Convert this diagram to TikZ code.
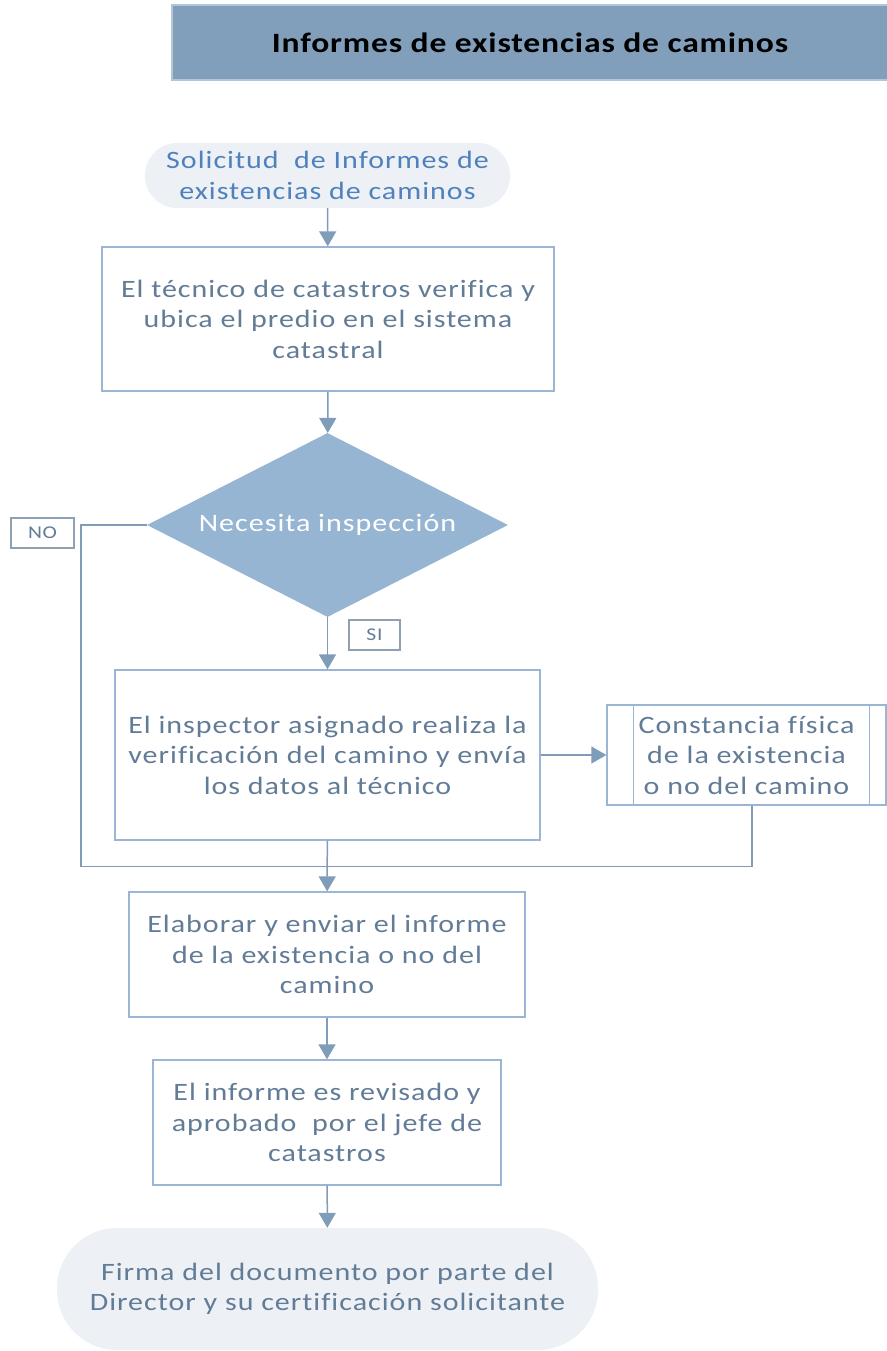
\documentclass[tikz,border=0pt]{standalone}
\usepackage{fontspec}
\setmainfont{Carlito}[FakeStretch=1.2,LetterSpace=4,Ligatures=NoCommon]
\newfontfamily\titlefont{Carlito}[FakeStretch=1.2,LetterSpace=3]
\usetikzlibrary{arrows.meta,shapes.geometric}
\definecolor{hdrfill}{HTML}{819FBB}
\definecolor{hdrline}{HTML}{B4C5D8}
\definecolor{palefill}{HTML}{EDF1F6}
\definecolor{bluetxt}{HTML}{4F81BD}
\definecolor{greytxt}{HTML}{627C97}
\definecolor{boxline}{HTML}{9AB6D4}
\definecolor{decfill}{HTML}{95B5D3}
\definecolor{conn}{HTML}{7F9CB9}
\definecolor{labline}{HTML}{8EA0B3}
\tikzset{
  stepbox/.style={draw=boxline,line width=1.3pt,fill=white,text=greytxt,align=center,
    font=\fontsize{25}{30.5}\selectfont,inner sep=0pt},
  termbox/.style={fill=palefill,draw=none,align=center,inner sep=0pt,
    font=\fontsize{25}{30.5}\selectfont},
  lab/.style={draw=labline,line width=2pt,fill=white,text=greytxt,inner sep=0pt,
    font=\fontsize{18}{20}\selectfont},
  link/.style={draw=conn,line width=1.5pt},
  arr/.style={link,-{Triangle[width=17pt,length=15pt]}}
}
\begin{document}
\begin{tikzpicture}[x=1pt,y=-1pt]
\useasboundingbox (0,0) rectangle (886,1351);
% header
\node[fill=hdrfill,draw=hdrline,line width=1.5pt,minimum width=716,minimum height=75,inner sep=0pt,
  font=\titlefont\fontsize{28}{32}\selectfont\bfseries] (hdr) at (530,42.5) {Informes de existencias de caminos};
% start
\node[termbox,text=bluetxt,minimum width=365,minimum height=65,rounded corners=32] (start) at (327.5,175.5)
  {Solicitud\ \ de Informes de\\existencias de caminos};
\node[stepbox,minimum width=452,minimum height=144] (b1) at (328,319)
  {El técnico de catastros verifica y\\ubica el predio en el sistema\\catastral};
\node[diamond,aspect=1.962,fill=decfill,draw=none,text=white,inner sep=0pt,minimum width=361,minimum height=184,
  font=\fontsize{25}{30}\selectfont] (dec) at (327.5,525) {Necesita inspección};
\node[stepbox,minimum width=425,minimum height=170] (b2) at (327.5,755)
  {El inspector asignado realiza la\\verificación del camino y envía\\los datos al técnico};
\node[stepbox,minimum width=279,minimum height=100] (cons) at (746.5,755)
  {Constancia física\\de la existencia\\o no del camino};
\draw[boxline,line width=1.3pt] ([xshift=27]cons.north west) -- ([xshift=27]cons.south west)
  ([xshift=-17]cons.north east) -- ([xshift=-17]cons.south east);
\node[stepbox,minimum width=396,minimum height=125] (b3) at (327,954.5)
  {Elaborar y enviar el informe\\de la existencia o no del\\camino};
\node[stepbox,minimum width=348,minimum height=125] (b4) at (327,1122.5)
  {El informe es revisado y\\aprobado\ \ por el jefe de\\catastros};
\node[termbox,text=greytxt,minimum width=541,minimum height=122,rounded corners=60] (end) at (327.5,1289)
  {Firma del documento por parte del\\Director y su certificación solicitante};
% labels
\node[lab,minimum width=63,minimum height=30] (no) at (42.5,533) {NO};
\node[lab,minimum width=51,minimum height=30] (si) at (374.5,635) {SI};
% connectors
\coordinate (join) at (327,866.5);
\coordinate (nocorner) at (81,525);
\coordinate (consout) at ([xshift=5.5]cons.south);
\draw[arr] (start) -- (b1);
\draw[arr] (b1) -- (dec);
\draw[arr] (dec) -- (b2);
\draw[arr] (b2) -- (cons);
\draw[link] (dec.west) -- (nocorner) |- (join);
\draw[link] (consout) |- (join);
\draw[arr] (b2) -- (b3);
\draw[arr] (b3) -- (b4);
\draw[arr] (b4) -- (end);
\end{tikzpicture}
\end{document}
